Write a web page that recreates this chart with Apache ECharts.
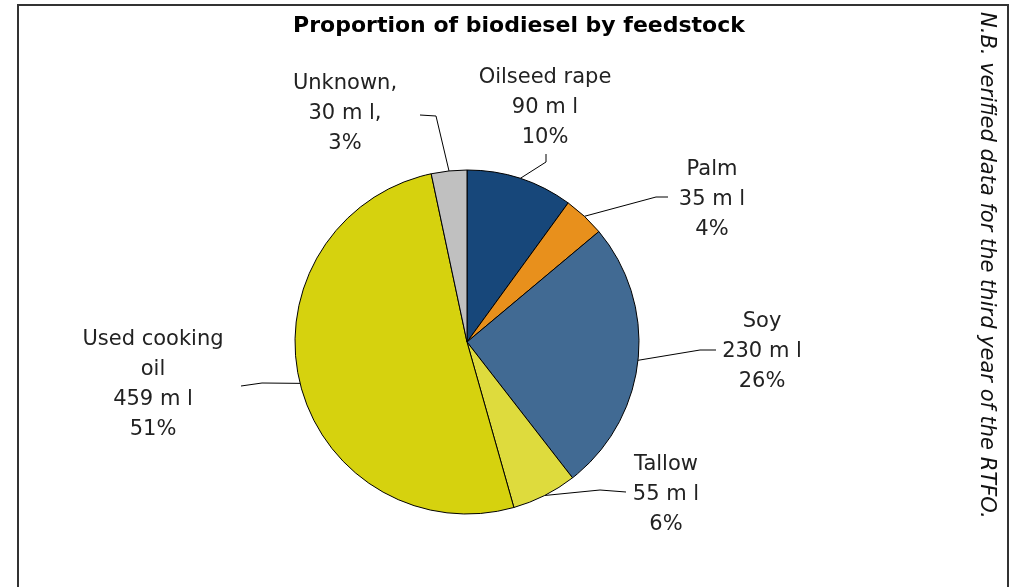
<!DOCTYPE html>
<html>
<head>
<meta charset="utf-8">
<script src="https://cdn.jsdelivr.net/npm/echarts@6/dist/echarts.min.js"></script>
<style>
  html, body { margin: 0; padding: 0; background: #fff; }
  #chart { width: 1012px; height: 587px; }
</style>
</head>
<body>
<div id="chart"></div>
<script>
// feedstock data (million litres)
const feedstocks = ['Oilseed rape', 'Palm', 'Soy', 'Tallow', 'Used cooking oil', 'Unknown'];
const volumes = [90, 35, 230, 55, 459, 30];
const sliceColors = ['#17477a', '#e8901c', '#416a93', '#dedb3d', '#d6d20e', '#c0c0c0'];

// label block centre, then leader line elbow + end
const labelPos = {
  'Oilseed rape': { at: [545, 108], elbow: [546, 162], end: [546, 154] },
  'Palm': { at: [712, 200], elbow: [656, 197], end: [668, 197] },
  'Soy': { at: [762, 352], elbow: [700, 350], end: [716, 350] },
  'Tallow': { at: [666, 495], elbow: [600, 490], end: [626, 492] },
  'Used cooking oil': { at: [153, 385], elbow: [262, 383], end: [241, 386] },
  'Unknown': { at: [345, 114], elbow: [436, 116], end: [420, 115] }
};

const font = 'DejaVu Sans, Verdana, sans-serif';

function initFeedstockPie(container) {
  const myChart = echarts.init(container);

  const option = {
    animation: false,
    title: {
      text: 'Proportion of biodiesel by feedstock',
      left: 514,
      textAlign: 'center',
      top: 10,
      textStyle: { fontFamily: font, fontSize: 22, fontWeight: 'bold', color: '#000' }
    },
    graphic: [
      {
        type: 'rect',
        shape: { x: 18, y: 5, width: 990, height: 600 },
        style: { fill: 'none', stroke: '#333', lineWidth: 2 },
        silent: true
      },
      {
        type: 'text',
        x: 986,
        y: 12,
        rotation: -Math.PI / 2,
        style: {
          text: 'N.B. verified data for the third year of the RTFO.',
          font: 'italic 21px ' + font,
          fill: '#111',
          textAlign: 'left',
          textVerticalAlign: 'middle'
        }
      }
    ],
    series: [
      {
        type: 'pie',
        center: [467, 342],
        radius: 172,
        startAngle: 90,
        clockwise: true,
        percentPrecision: 0,
        data: feedstocks.map((name, i) => ({
          name: name,
          value: volumes[i],
          itemStyle: { color: sliceColors[i] }
        })),
        itemStyle: { borderColor: '#000', borderWidth: 1 },
        label: {
          show: true,
          fontFamily: font,
          fontSize: 21,
          lineHeight: 30,
          color: '#222',
          align: 'center',
          formatter: function (p) {
            if (p.name === 'Unknown') {
              return 'Unknown,\n' + p.value + ' m l,\n' + p.percent + '%';
            }
            const nm = p.name === 'Used cooking oil' ? 'Used cooking\noil' : p.name;
            return nm + '\n' + p.value + ' m l\n' + p.percent + '%';
          }
        },
        labelLine: {
          show: true,
          lineStyle: { color: '#000', width: 1 }
        },
        labelLayout: function (params) {
          const lp = labelPos[feedstocks[params.dataIndex]];
          const start = params.labelLinePoints ? params.labelLinePoints[0] : lp.elbow;
          return {
            x: lp.at[0],
            y: lp.at[1],
            align: 'center',
            verticalAlign: 'middle',
            labelLinePoints: [start, lp.elbow, lp.end]
          };
        }
      }
    ]
  };

  myChart.setOption(option);
  return myChart;
}

initFeedstockPie(document.getElementById('chart'));
</script>
</body>
</html>
